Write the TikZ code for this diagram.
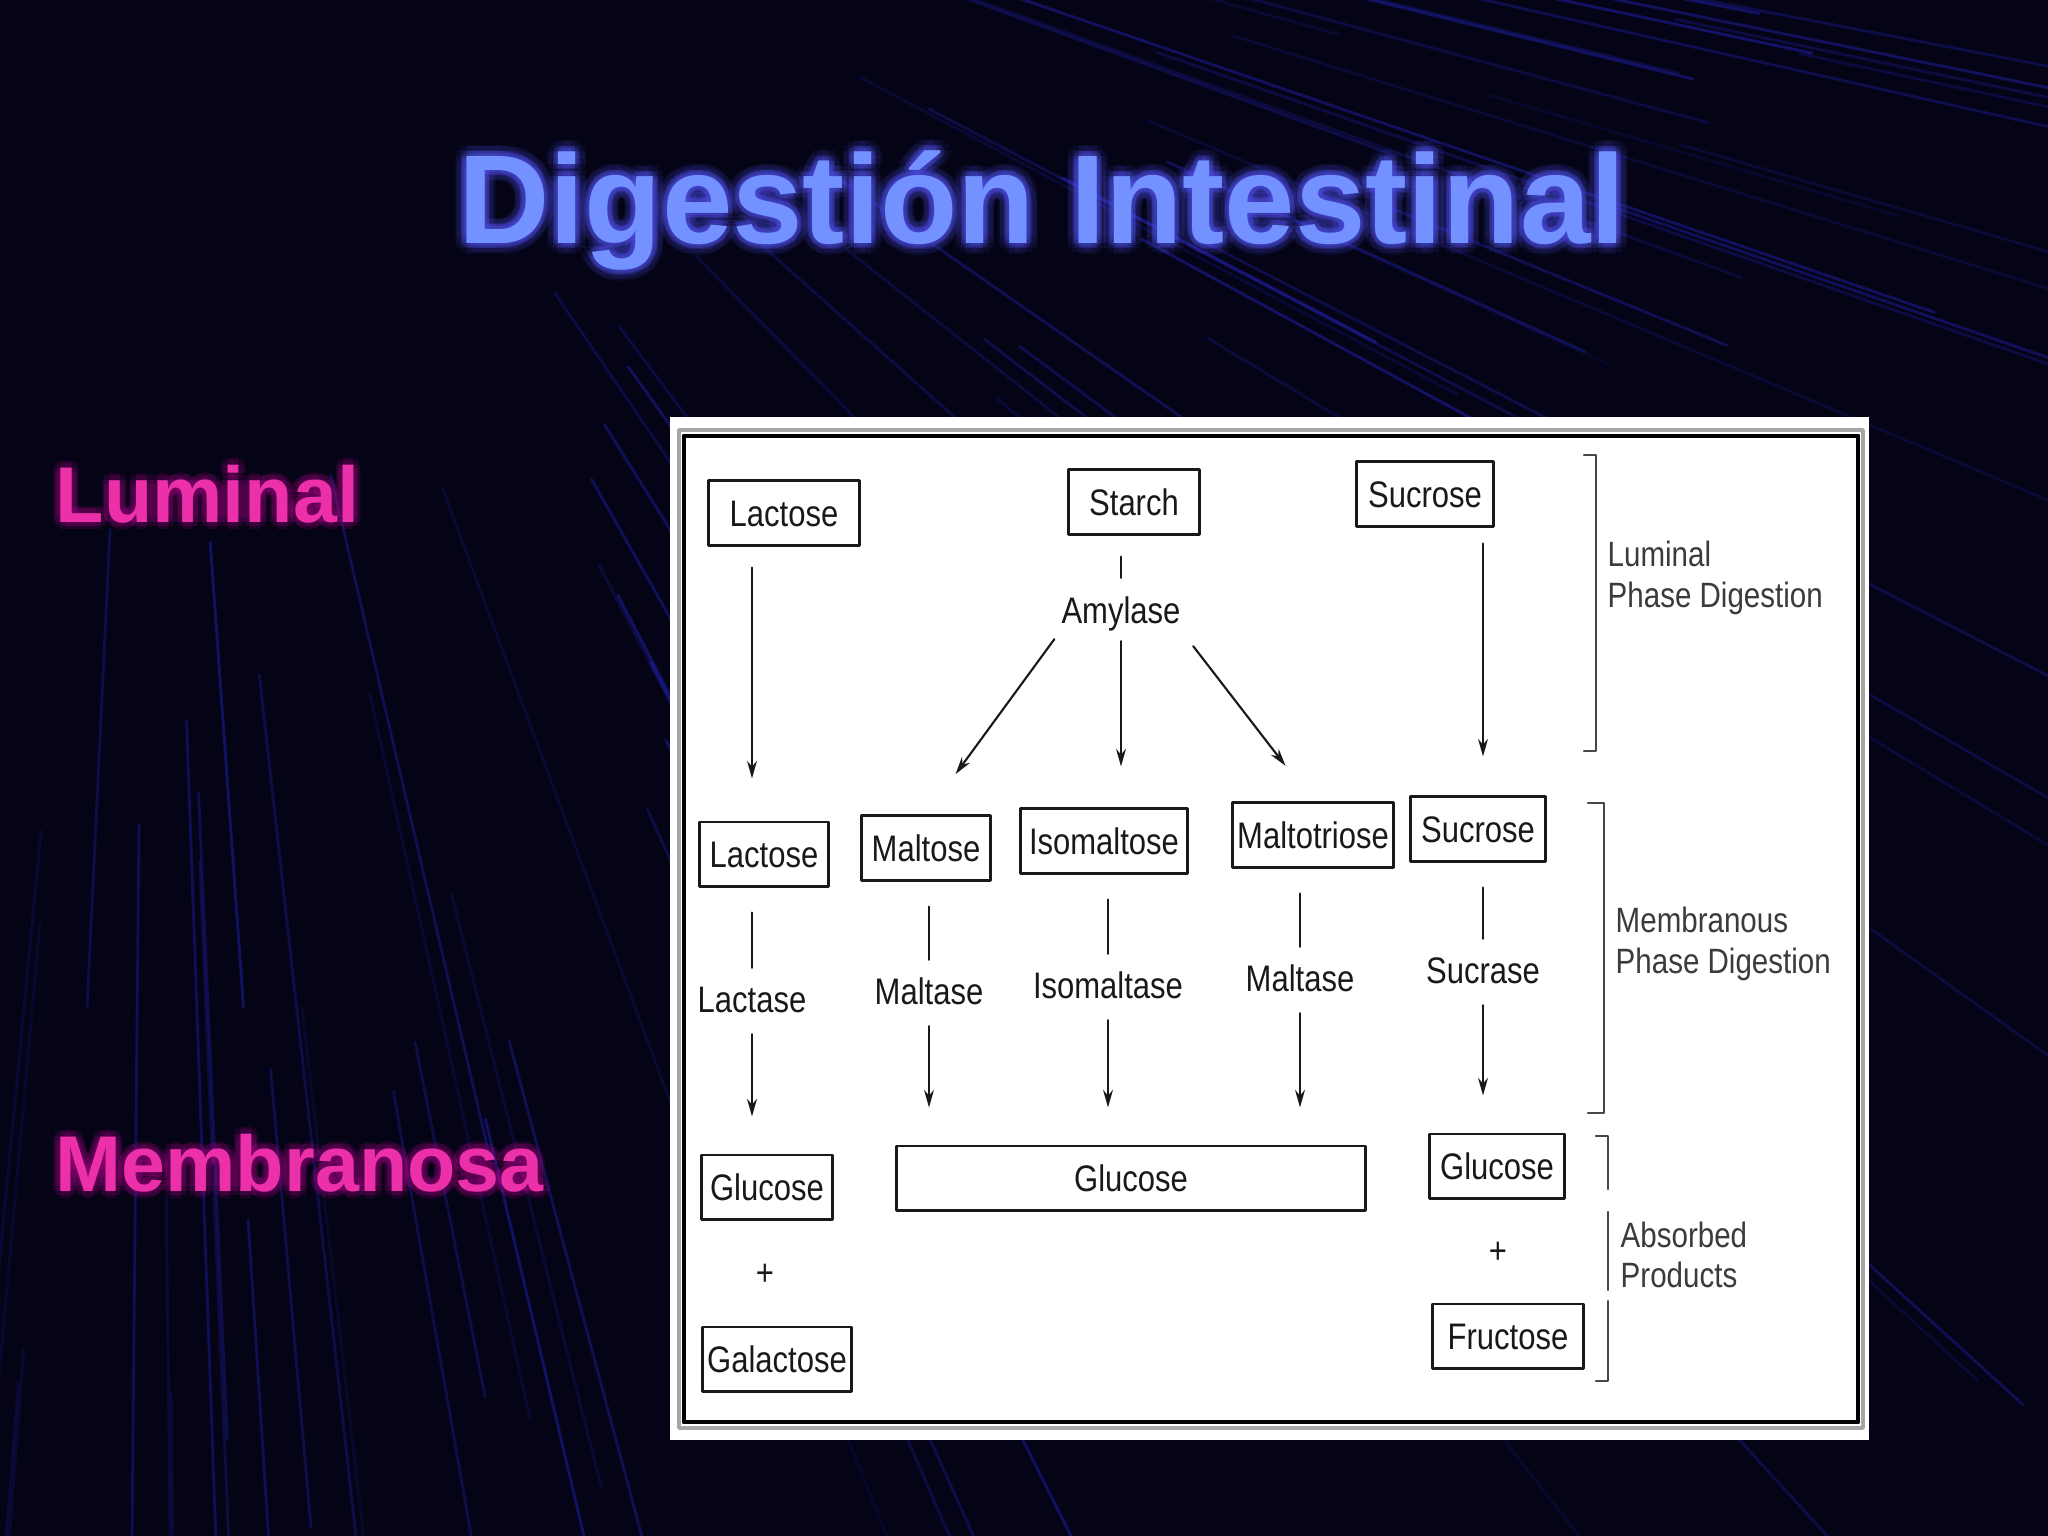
\documentclass[tikz,border=0pt]{standalone}
\usepackage{fontspec}
\setmainfont{Liberation Sans}
\newfontfamily\scanfont{Liberation Sans}[FakeStretch=0.84]
\usetikzlibrary{arrows.meta}

\definecolor{fondo}{RGB}{4,4,22}
\definecolor{raya}{RGB}{40,40,215}
\definecolor{titulo}{RGB}{115,145,255}
\definecolor{halo}{RGB}{80,80,235}
\definecolor{rosa}{RGB}{236,48,170}
\definecolor{halorosa}{RGB}{210,0,160}
\definecolor{tinta}{RGB}{25,25,25}

\tikzset{
	sugar/.style={draw=tinta, line width=0.85pt, text=tinta, font=\scanfont\fontsize{10.5}{12}\selectfont,
		minimum height=0.64cm, inner sep=1pt, text height=7.6pt, text depth=0pt},
	enzyme/.style={text=tinta, font=\scanfont\fontsize{10.5}{12}\selectfont, inner sep=1pt,
		text height=7.6pt, text depth=2pt},
	phase/.style={text=tinta!85, font=\scanfont\fontsize{10}{11.5}\selectfont, align=left, anchor=west, inner sep=0pt},
	stem/.style={draw=tinta, line width=0.6pt},
	arr/.style={stem, -{Stealth[length=5pt,width=2.8pt]}},
	brack/.style={draw=tinta!80, line width=0.7pt},
	streak/.style={draw=raya, line width=0.8pt},
	bigtitle/.style={font=\fontsize{36}{40}\selectfont\bfseries, anchor=base, inner sep=0pt},
	sidetitle/.style={font=\fontsize{22.5}{26}\selectfont\bfseries, anchor=base west, inner sep=0pt},
}

\begin{document}
\begin{tikzpicture}[line cap=round,line join=round,x=0.01cm,y=-0.01cm]
				\useasboundingbox (0,0) rectangle (2048,1536);
				% Fondo
				\fill[fondo] (0,0) rectangle (2048,1536);
				\begin{scope}
					\clip (0,0) rectangle (2048,1536);
					\pgfmathsetseed{42}
					\foreach \k in {1,...,100}{
						\pgfmathsetmacro\ang{6+90*rnd}
						\pgfmathsetmacro\rA{700+1000*rnd}
						\pgfmathsetmacro\rB{\rA+300+800*rnd}
						\pgfmathsetmacro\op{0.10+0.32*rnd}
						\draw[streak, opacity=\op, shift={(150,-300)}] (\ang:\rA) -- (\ang:\rB);
					}
				\end{scope}

				% Titulo
				\foreach \a in {0,30,...,330}{
					\node[bigtitle, text=halo, text opacity=0.09, xshift={1.1mm*cos(\a)}, yshift={1.1mm*sin(\a)}] (haloA\a) at (1042,243) {Digestión Intestinal};
					\node[bigtitle, text=halo, text opacity=0.16, xshift={0.5mm*cos(\a)}, yshift={0.5mm*sin(\a)}] (haloB\a) at (1042,243) {Digestión Intestinal};
				}
				\node[bigtitle, text=titulo] (title) at (1042,243) {Digestión Intestinal};

				% Rotulos laterales
				\foreach \a in {0,45,...,315}{
					\node[sidetitle, text=halorosa, text opacity=0.14, xshift={0.7mm*cos(\a)}, yshift={0.7mm*sin(\a)}] (haloL\a) at (55,522) {Luminal};
					\node[sidetitle, text=halorosa, text opacity=0.14, xshift={0.7mm*cos(\a)}, yshift={0.7mm*sin(\a)}] (haloM\a) at (55,1191) {Membranosa};
				}
				\node[sidetitle, text=rosa] (lum) at (55,522) {Luminal};
				\node[sidetitle, text=rosa] (memb) at (55,1191) {Membranosa};

				% Panel
				\fill[white] (670,417) rectangle (1869,1440);
				\draw[gray!70, line width=1pt] (679,430) rectangle (1863,1428);
				\draw[black, line width=1.4pt] (684,436) rectangle (1858,1422);

				% Fase luminal
				\node[sugar, minimum width=1.50cm] (lt) at (784,513) {Lactose};
				\node[sugar, minimum width=1.31cm] (sta) at (1134,502) {Starch};
				\node[sugar, minimum width=1.36cm] (st) at (1425,494) {Sucrose};
				\node[enzyme] (amy) at (1121,614) {Amylase};

				% Fase membranosa
				\node[sugar, minimum width=1.28cm] (ll) at (764,854) {Lactose};
				\node[sugar, minimum width=1.28cm] (mal) at (926,848) {Maltose};
				\node[sugar, minimum width=1.66cm] (iso) at (1104,841) {Isomaltose};
				\node[sugar, minimum width=1.61cm] (mtr) at (1313,835) {Maltotriose};
				\node[sugar, minimum width=1.35cm] (sr) at (1478,829) {Sucrose};
				\node[enzyme] (lac) at (752,1003) {Lactase};
				\node[enzyme] (mlt1) at (929,995) {Maltase};
				\node[enzyme] (imt) at (1108,989) {Isomaltase};
				\node[enzyme] (mlt2) at (1300,982) {Maltase};
				\node[enzyme] (scr) at (1483,974) {Sucrase};

				% Productos
				\node[sugar, minimum width=1.31cm] (gl) at (767,1187) {Glucose};
				\node[sugar, minimum width=4.69cm] (gbig) at (1131,1178) {Glucose};
				\node[sugar, minimum width=1.35cm] (gr) at (1497,1166) {Glucose};
				\node[enzyme] (plusL) at (765,1276) {+};
				\node[enzyme] (plusR) at (1498,1254) {+};
				\node[sugar, minimum width=1.49cm] (gal) at (777,1359) {Galactose};
				\node[sugar, minimum width=1.50cm] (fru) at (1508,1336) {Fructose};

				% Flechas luminales
				\draw[stem, shorten <=2.1mm, shorten >=1.5mm] (sta.south -| amy) -- (amy.north);
				\draw[arr, shorten <=0.5mm, shorten >=5mm] (amy.south west) -- (mal.north);
				\draw[arr, shorten <=0.6mm, shorten >=4.1mm] (amy.south) -- (amy.south |- iso.north);
				\draw[arr, shorten <=1.4mm, shorten >=4.5mm] (amy.south east) -- (mtr.north);
				\draw[arr, shorten <=2.1mm, shorten >=4.2mm] (lt.south -| lac) -- (ll.north -| lac);
				\draw[arr, shorten <=1.6mm, shorten >=3.9mm] (st.south -| scr) -- (sr.north -| scr);

				% Flechas membranosas
				\foreach \b/\e/\p in {ll/lac/gl, mal/mlt1/gbig, iso/imt/gbig, mtr/mlt2/gbig, sr/scr/gr}{
					\draw[stem, shorten <=2.5mm, shorten >=1.4mm] (\b.south -| \e) -- (\e.north);
					\draw[arr, shorten <=1mm, shorten >=3.7mm] (\e.south) -- (\e.south |- \p.north);
				}

				% Llaves
				\draw[brack] (1584,455) -- (1596,455) -- (1596,751) -- (1584,751);
				\draw[brack] (1588,803) -- (1604,803) -- (1604,1113) -- (1588,1113);
				\draw[brack] (1596,1136) -- (1608,1136) -- (1608,1189);
				\draw[brack] (1608,1212) -- (1608,1290);
				\draw[brack] (1608,1301) -- (1608,1381) -- (1596,1381);
				\node[phase] (lumtxt) at (1607,578) {Luminal\\Phase Digestion};
				\node[phase] (memtxt) at (1615,944) {Membranous\\Phase Digestion};
				\node[phase] (abstxt) at (1620,1255) {Absorbed\\Products};
\end{tikzpicture}
\end{document}
